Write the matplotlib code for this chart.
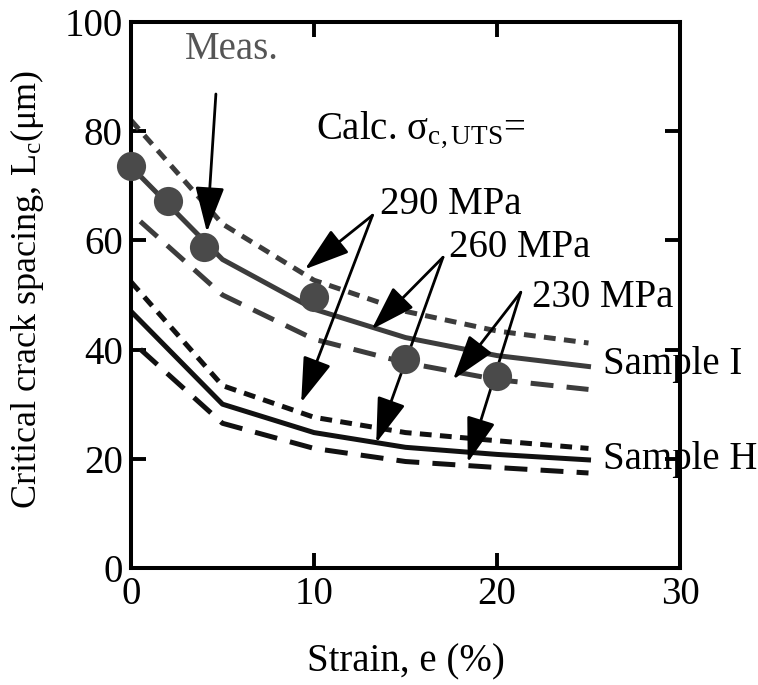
import numpy as np
import matplotlib.pyplot as plt

plt.rcParams['font.family'] = ['Liberation Serif', 'DejaVu Serif']
plt.rcParams['mathtext.fontset'] = 'custom'
plt.rcParams['mathtext.rm'] = 'Liberation Serif'
plt.rcParams['mathtext.it'] = 'Liberation Serif:italic'
plt.rcParams['lines.scale_dashes'] = False

# strain (%) where the calculated curves bend
strain = [0, 5, 10, 15, 20, 25]

# Sample I, calculated L_c for three sigma_c,UTS values
I_290 = [82.0, 63.0, 52.7, 47.0, 43.4, 41.2]
I_260 = [73.5, 56.5, 47.4, 42.2, 38.9, 36.9]
I_230 = [65.0, 50.0, 41.9, 37.6, 34.5, 32.7]

# Sample H
H_290 = [52.4, 33.4, 27.6, 24.8, 23.3, 21.9]
H_260 = [47.0, 30.0, 24.8, 22.1, 20.8, 19.8]
H_230 = [41.6, 26.5, 21.9, 19.5, 18.4, 17.4]

# measured points
meas_strain = [0, 2, 4, 10, 15, 20]
meas_Lc = [73.6, 67.2, 58.7, 49.7, 38.2, 35.1]

gray = '#3c3c3c'
black = '#111111'
short = (0, (8.5, 6))
long_ = (17, (16.5, 9.5))

fig = plt.figure(figsize=(7.58, 6.85), dpi=100)
ax = fig.add_axes([0.1728, 0.1708, 0.7243, 0.7972])

lw = 3.6
ax.plot(strain, I_290, color=gray, lw=lw, linestyle=short)
ax.plot(strain, I_260, color=gray, lw=lw)
ax.plot(strain, I_230, color=gray, lw=lw, linestyle=long_)
ax.plot(strain, H_290, color=black, lw=lw, linestyle=short)
ax.plot(strain, H_260, color=black, lw=lw)
ax.plot(strain, H_230, color=black, lw=lw, linestyle=long_)
ax.plot(meas_strain, meas_Lc, 'o', color='#4a4a4a', ms=21, mec='none',
        clip_on=False, zorder=5)

ax.set_xlim(0, 30)
ax.set_ylim(0, 100)
ax.set_xticks([0, 10, 20, 30])
ax.set_yticks([0, 20, 40, 60, 80, 100])
ax.tick_params(direction='in', length=11, width=2.8, labelsize=28,
               top=True, right=True, pad=6)
for s in ax.spines.values():
    s.set_linewidth(2.9)

ax.set_xlabel('Strain, e (%)', fontsize=28, labelpad=22)
ax.set_ylabel(r'Critical crack spacing, L$_{\mathrm{c}}$($\mathrm{\mu}$m)',
              fontsize=26)
ax.yaxis.set_label_coords(-0.155, 0.51)

fs = 28
ax.text(5.5, 95, 'Meas.', color='#555555', fontsize=fs, ha='center', va='center')
ax.text(10.1, 80.3, r'Calc. σ$_{\mathrm{c,UTS}}$=', fontsize=fs, ha='left', va='center')
ax.text(13.6, 66.6, '290 MPa', fontsize=fs, ha='left', va='center')
ax.text(17.4, 58.7, '260 MPa', fontsize=fs, ha='left', va='center')
ax.text(21.9, 49.5, '230 MPa', fontsize=fs, ha='left', va='center')
ax.text(25.8, 37.2, 'Sample I', fontsize=fs, ha='left', va='center', clip_on=False)
ax.text(25.8, 19.8, 'Sample H', fontsize=fs, ha='left', va='center', clip_on=False)

ap = dict(arrowstyle='-|>,head_length=1.4,head_width=0.45', color='black',
          lw=2.0, mutation_scale=20, shrinkA=0, shrinkB=0)
arrows = [
    ((4.64, 86.8), (4.15, 61.5)),
    ((13.2, 64.6), (9.5, 54.7)),
    ((13.2, 64.6), (9.3, 30.3)),
    ((17.05, 56.9), (13.15, 43.7)),
    ((17.05, 56.9), (13.4, 22.9)),
    ((21.3, 50.5), (17.6, 34.5)),
    ((21.3, 50.5), (18.4, 19.3)),
]
for tail, head in arrows:
    ax.annotate('', xy=head, xytext=tail, arrowprops=ap)

fig.savefig('out.png', dpi=100)
